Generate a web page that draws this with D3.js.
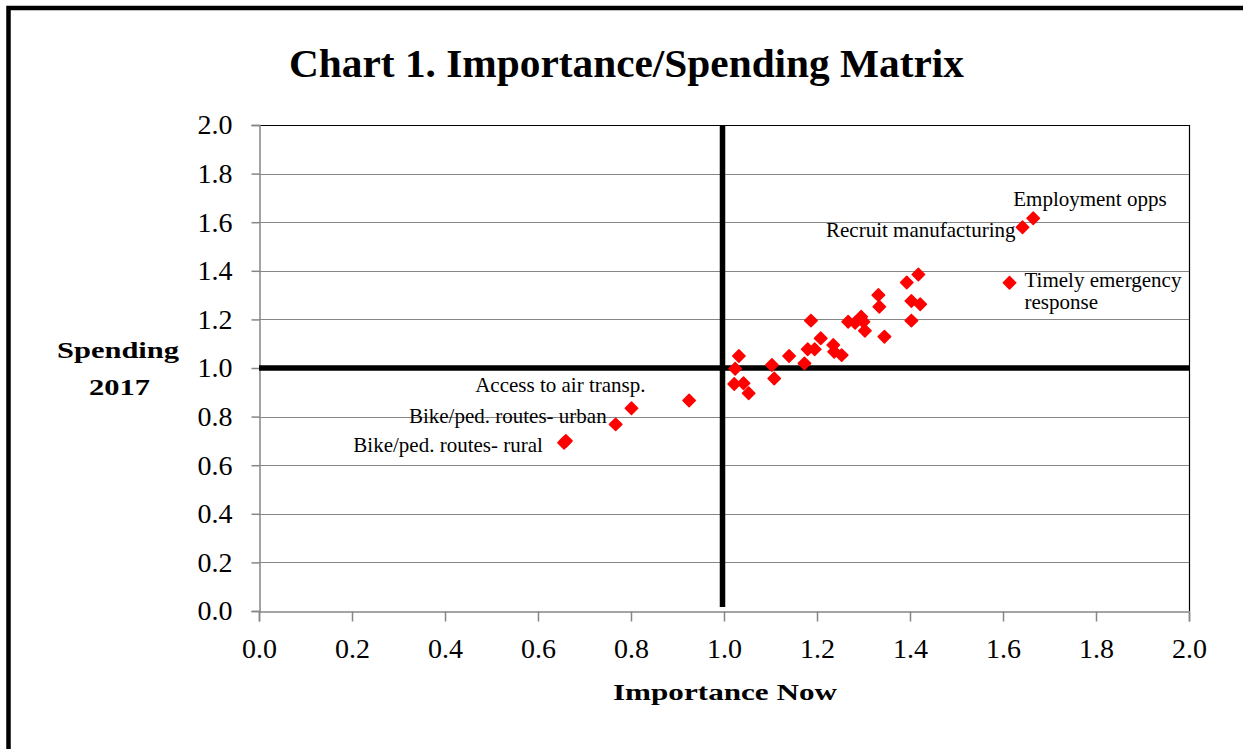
<!DOCTYPE html>
<html>
<head>
<meta charset="utf-8">
<script src="https://cdn.jsdelivr.net/npm/d3@7"></script>
<style>
  body { margin: 0; background: #fff; }
  svg { display: block; }
  text { font-family: "Liberation Serif", "Times New Roman", serif; fill: #000; }
</style>
</head>
<body>
<div id="viz"></div>
<script>
// importance now (x) vs spending 2017 (y)
var importance = [1.665, 1.642, 1.614, 1.418, 1.393, 1.403, 1.422, 1.403, 1.332, 1.334,
                  1.345, 1.295, 1.300, 1.282, 1.267, 1.303, 1.187, 1.208, 1.180, 1.195,
                  1.235, 1.237, 1.253, 1.173, 1.140, 1.103, 1.108, 1.032, 1.024, 1.022,
                  1.042, 1.053, 0.925, 0.801, 0.767, 0.660, 0.656];
var spending   = [1.616, 1.579, 1.351, 1.385, 1.352, 1.276, 1.262, 1.195, 1.300, 1.252,
                  1.129, 1.211, 1.190, 1.186, 1.190, 1.153, 1.195, 1.122, 1.077, 1.077,
                  1.095, 1.067, 1.053, 1.019, 1.049, 1.012, 0.957, 1.049, 0.997, 0.934,
                  0.937, 0.896, 0.866, 0.834, 0.768, 0.700, 0.692];

// labelled points (index into the arrays above)
var labelText  = [["Employment opps"], ["Recruit manufacturing"], ["Timely emergency", "response"],
                  ["Access to air transp."], ["Bike/ped. routes- urban"], ["Bike/ped. routes- rural"]];
var labelPoint = [0, 1, 2, 33, 34, 35];

var ticks = [0, 0.2, 0.4, 0.6, 0.8, 1.0, 1.2, 1.4, 1.6, 1.8, 2.0];
var refValue = 1.0;

// label placement relative to its point
var labelPos = [
  {dx: -20, dy: -12, anchor: "start"},
  {dx: -7, dy: 10, anchor: "end"},
  {dx: 15, dy: 4, anchor: "start"},
  {dx: 14, dy: -16, anchor: "end"},
  {dx: -9, dy: -1, anchor: "end"},
  {dx: -23, dy: 11, anchor: "end"}
];

var width = 1243, height = 749;
var svg = d3.select("#viz").append("svg").attr("width", width).attr("height", height);

var x = d3.scaleLinear().domain([0, 2]).range([259, 1189]);
var y = d3.scaleLinear().domain([0, 2]).range([611, 125]);

// outer frame (top and left only)
svg.append("path")
    .attr("d", "M8.5,749 V8 H1243")
    .attr("fill", "none")
    .attr("stroke", "#000")
    .attr("stroke-width", 4.5);

svg.append("text")
    .attr("x", 626.5)
    .attr("y", 77)
    .attr("text-anchor", "middle")
    .attr("textLength", 675)
    .attr("lengthAdjust", "spacingAndGlyphs")
    .style("font-size", "41px")
    .style("font-weight", "bold")
    .text("Chart 1. Importance/Spending Matrix");

// gridlines
svg.append("g")
  .selectAll("line")
  .data(ticks.filter(function(t){ return t > 0 && t < 2; }))
  .enter().append("line")
    .attr("x1", x(0)).attr("x2", x(2))
    .attr("y1", function(d){ return Math.round(y(d)) + 0.5; })
    .attr("y2", function(d){ return Math.round(y(d)) + 0.5; })
    .attr("stroke", "#868686")
    .attr("stroke-width", 1);

// plot border top/right (black)
svg.append("path")
    .attr("d", "M" + x(0) + "," + (Math.round(y(2)) + 0.5) + " H" + (Math.round(x(2)) + 0.5) + " V" + y(0))
    .attr("fill", "none")
    .attr("stroke", "#000")
    .attr("stroke-width", 1.2);

// axes
var yAxis = d3.axisLeft(y).tickValues(ticks).tickSize(8).tickPadding(19).tickFormat(d3.format(".1f"));
var xAxis = d3.axisBottom(x).tickValues(ticks).tickSize(10).tickPadding(17).tickFormat(d3.format(".1f"));

var gy = svg.append("g").attr("transform", "translate(" + (Math.round(x(0)) + 0.5) + ",0)").call(yAxis);
var gx = svg.append("g").attr("transform", "translate(0," + (Math.round(y(0)) + 0.5) + ")").call(xAxis);

[gy, gx].forEach(function(g){
  g.select(".domain").attr("stroke", "#868686").attr("stroke-width", 1.5);
  g.selectAll(".tick line").attr("stroke", "#868686").attr("stroke-width", 1.5);
  g.selectAll(".tick text")
      .style("font-family", "Liberation Serif, serif")
      .style("font-size", "28px")
      .attr("fill", "#000");
});
gx.selectAll(".tick text").attr("dy", "0.71em");

// reference lines at 1.0
svg.append("line")
    .attr("x1", x(0)).attr("x2", x(2))
    .attr("y1", y(refValue)).attr("y2", y(refValue))
    .attr("stroke", "#000")
    .attr("stroke-width", 5.5);

svg.append("line")
    .attr("x1", x(refValue) - 1.5).attr("x2", x(refValue) - 1.5)
    .attr("y1", y(2)).attr("y2", y(0) - 4)
    .attr("stroke", "#000")
    .attr("stroke-width", 5.5);

// markers
var r = 6.2;
svg.append("g")
  .selectAll("path")
  .data(importance.map(function(v, i){ return [v, spending[i]]; }))
  .enter().append("path")
    .attr("transform", function(d){ return "translate(" + x(d[0]) + "," + y(d[1]) + ")"; })
    .attr("d", "M0," + (-r) + " L" + r + ",0 L0," + r + " L" + (-r) + ",0 Z")
    .attr("fill", "#ff0000")
    .attr("stroke", "#ff0000")
    .attr("stroke-width", 1.5)
    .attr("stroke-linejoin", "round");

// point labels
labelText.forEach(function(lines, i){
  var p = labelPoint[i], pos = labelPos[i];
  var t = svg.append("text")
      .attr("x", x(importance[p]) + pos.dx)
      .attr("y", y(spending[p]) + pos.dy)
      .attr("text-anchor", pos.anchor)
      .style("font-size", "21px");
  lines.forEach(function(s, j){
    t.append("tspan")
        .attr("x", x(importance[p]) + pos.dx)
        .attr("dy", j == 0 ? 0 : 22)
        .text(s);
  });
});

// axis titles
svg.append("text")
    .attr("x", 118).attr("y", 358)
    .attr("text-anchor", "middle")
    .attr("textLength", 122)
    .attr("lengthAdjust", "spacingAndGlyphs")
    .style("font-size", "23px").style("font-weight", "bold")
    .text("Spending");

svg.append("text")
    .attr("x", 119.5).attr("y", 395)
    .attr("text-anchor", "middle")
    .attr("textLength", 61)
    .attr("lengthAdjust", "spacingAndGlyphs")
    .style("font-size", "23px").style("font-weight", "bold")
    .text("2017");

svg.append("text")
    .attr("x", 725).attr("y", 700)
    .attr("text-anchor", "middle")
    .attr("textLength", 224)
    .attr("lengthAdjust", "spacingAndGlyphs")
    .style("font-size", "23px").style("font-weight", "bold")
    .text("Importance Now");
</script>
</body>
</html>
